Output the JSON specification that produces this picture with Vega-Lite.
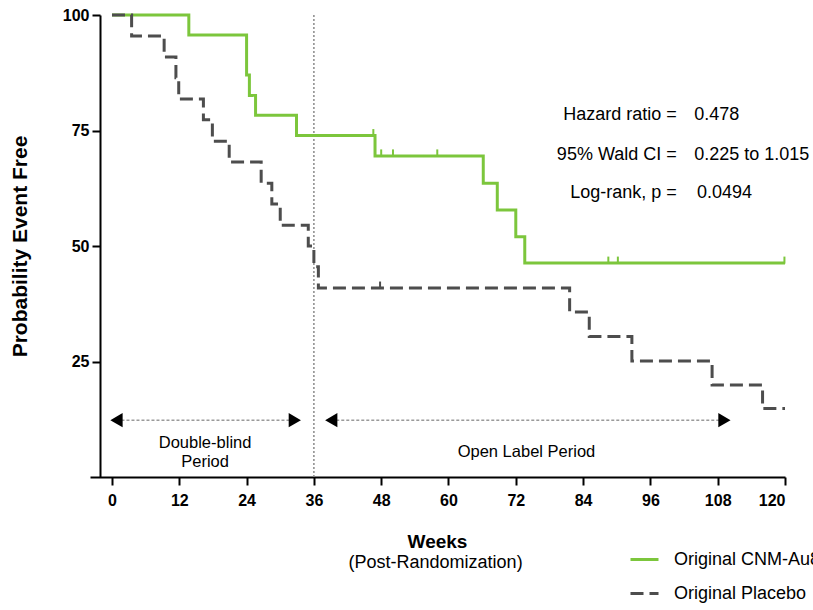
{
  "$schema": "https://vega.github.io/schema/vega-lite/v6.json",
  "width": 695,
  "height": 462,
  "autosize": {"type": "none"},
  "padding": {"left": 90, "top": 15, "right": 28, "bottom": 133},
  "background": "white",
  "config": {
    "view": {"stroke": null},
    "font": "Liberation Sans",
    "axis": {"grid": false, "domainColor": "black", "domainWidth": 2, "tickColor": "black", "tickWidth": 2, "tickSize": 8, "labelFont": "Liberation Sans", "labelFontWeight": "bold", "labelFontSize": 16, "labelColor": "black", "titleFont": "Liberation Sans", "titleColor": "black", "titleFontWeight": "bold"}
  },
  "datasets": {
    "curves": [
      {"group": "Original CNM-Au8", "week": 0, "prob": 100},
      {"group": "Original CNM-Au8", "week": 13.7, "prob": 95.65},
      {"group": "Original CNM-Au8", "week": 24.0, "prob": 87.0},
      {"group": "Original CNM-Au8", "week": 24.5, "prob": 82.6},
      {"group": "Original CNM-Au8", "week": 25.6, "prob": 78.3},
      {"group": "Original CNM-Au8", "week": 32.9, "prob": 73.9},
      {"group": "Original CNM-Au8", "week": 46.9, "prob": 69.5},
      {"group": "Original CNM-Au8", "week": 66.2, "prob": 63.6},
      {"group": "Original CNM-Au8", "week": 68.7, "prob": 57.8},
      {"group": "Original CNM-Au8", "week": 72.0, "prob": 52.0},
      {"group": "Original CNM-Au8", "week": 73.6, "prob": 46.3},
      {"group": "Original CNM-Au8", "week": 120, "prob": 46.3},
      {"group": "Original Placebo", "week": 0, "prob": 100},
      {"group": "Original Placebo", "week": 3.5, "prob": 95.45},
      {"group": "Original Placebo", "week": 9.3, "prob": 90.9},
      {"group": "Original Placebo", "week": 11.4, "prob": 86.4},
      {"group": "Original Placebo", "week": 11.9, "prob": 81.8},
      {"group": "Original Placebo", "week": 16.3, "prob": 77.3},
      {"group": "Original Placebo", "week": 17.9, "prob": 72.7},
      {"group": "Original Placebo", "week": 20.9, "prob": 68.2},
      {"group": "Original Placebo", "week": 26.6, "prob": 63.6},
      {"group": "Original Placebo", "week": 28.5, "prob": 59.1},
      {"group": "Original Placebo", "week": 30.0, "prob": 54.5},
      {"group": "Original Placebo", "week": 35.0, "prob": 50.0},
      {"group": "Original Placebo", "week": 36.0, "prob": 45.5},
      {"group": "Original Placebo", "week": 36.8, "prob": 40.9},
      {"group": "Original Placebo", "week": 81.6, "prob": 35.7},
      {"group": "Original Placebo", "week": 85.1, "prob": 30.4},
      {"group": "Original Placebo", "week": 92.7, "prob": 25.1},
      {"group": "Original Placebo", "week": 107.0, "prob": 19.9},
      {"group": "Original Placebo", "week": 116.0, "prob": 14.8},
      {"group": "Original Placebo", "week": 120, "prob": 14.8}
    ],
    "censor": [
      {"group": "Original CNM-Au8", "week": 46.6, "prob": 73.9},
      {"group": "Original CNM-Au8", "week": 48.0, "prob": 69.5},
      {"group": "Original CNM-Au8", "week": 50.1, "prob": 69.5},
      {"group": "Original CNM-Au8", "week": 58.0, "prob": 69.5},
      {"group": "Original CNM-Au8", "week": 88.5, "prob": 46.3},
      {"group": "Original CNM-Au8", "week": 90.2, "prob": 46.3},
      {"group": "Original CNM-Au8", "week": 119.9, "prob": 46.3},
      {"group": "Original Placebo", "week": 47.8, "prob": 40.9}
    ],
    "arrows": [
      {"week": 0.8, "week2": 32.6, "prob": 12.3},
      {"week": 39.1, "week2": 109.2, "prob": 12.3}
    ],
    "periodText": [
      {"week": 16.6, "prob": 7.4, "label": "Double-blind"},
      {"week": 16.6, "prob": 3.3, "label": "Period"},
      {"week": 73.9, "prob": 5.5, "label": "Open Label Period"}
    ],
    "subtitle": [
      {"week": 57.7, "prob": -18.6, "label": "(Post-Randomization)"}
    ],
    "statLabels": [
      {"week": 100.7, "prob": 78.4, "label": "Hazard ratio ="},
      {"week": 100.7, "prob": 69.7, "label": "95% Wald CI ="},
      {"week": 100.7, "prob": 61.4, "label": "Log-rank, p ="}
    ],
    "statValues": [
      {"week": 103.8, "prob": 78.4, "label": "0.478"},
      {"week": 103.8, "prob": 69.7, "label": "0.225 to 1.015"},
      {"week": 104.3, "prob": 61.4, "label": "0.0494"}
    ]
  },
  "layer": [
    {
      "data": {"values": [{"week": 36}]},
      "mark": {"type": "rule", "color": "#8a8a8a", "strokeWidth": 1.5, "strokeDash": [2, 2]},
      "encoding": {"x": {"field": "week", "type": "quantitative"}}
    },
    {
      "data": {"name": "arrows"},
      "mark": {"type": "rule", "color": "#9a9a9a", "strokeWidth": 1.5, "strokeDash": [3, 2]},
      "encoding": {
        "x": {"field": "week", "type": "quantitative"},
        "x2": {"field": "week2"},
        "y": {"field": "prob", "type": "quantitative"}
      }
    },
    {
      "data": {"name": "arrows"},
      "mark": {"type": "point", "shape": "triangle-left", "filled": true, "color": "black", "opacity": 1, "size": 200},
      "encoding": {
        "x": {"field": "week", "type": "quantitative"},
        "y": {"field": "prob", "type": "quantitative"}
      }
    },
    {
      "data": {"name": "arrows"},
      "mark": {"type": "point", "shape": "triangle-right", "filled": true, "color": "black", "opacity": 1, "size": 200},
      "encoding": {
        "x": {"field": "week2", "type": "quantitative"},
        "y": {"field": "prob", "type": "quantitative"}
      }
    },
    {
      "data": {"name": "curves"},
      "mark": {"type": "line", "interpolate": "step-after", "strokeWidth": 3},
      "encoding": {
        "x": {"field": "week", "type": "quantitative", "scale": {"domain": [-3.92, 120], "nice": false}, "axis": {"values": [0, 12, 24, 36, 48, 60, 72, 84, 96, 108, 120], "title": "Weeks", "titleFontSize": 19, "titlePadding": 24, "titleX": 347, "labelPadding": 7}},
        "y": {"field": "prob", "type": "quantitative", "scale": {"domain": [0, 100], "nice": false}, "axis": {"values": [25, 50, 75, 100], "offset": -10, "title": "Probability Event Free", "titleFontSize": 21, "titlePadding": 32, "labelPadding": 3}},
        "color": {"field": "group", "type": "nominal", "scale": {"domain": ["Original CNM-Au8", "Original Placebo"], "range": ["#7cc63c", "#4d4d4d"]}, "legend": {"orient": "none", "legendX": 539, "legendY": 529, "title": null, "symbolType": "stroke", "symbolSize": 784, "symbolStrokeWidth": 3, "labelFontSize": 18, "labelFont": "Liberation Sans", "labelColor": "black", "rowPadding": 9, "labelOffset": 14}},
        "strokeDash": {"field": "group", "type": "nominal", "scale": {"domain": ["Original CNM-Au8", "Original Placebo"], "range": [[1, 0], [13, 6]]}, "legend": null}
      }
    },
    {
      "data": {"name": "censor"},
      "mark": {"type": "tick", "orient": "vertical", "size": 7, "thickness": 2, "yOffset": -3, "opacity": 1},
      "encoding": {
        "x": {"field": "week", "type": "quantitative"},
        "y": {"field": "prob", "type": "quantitative"},
        "color": {"field": "group", "type": "nominal", "legend": null}
      }
    },
    {
      "data": {"name": "periodText"},
      "mark": {"type": "text", "align": "center", "baseline": "middle", "fontSize": 16.5, "color": "black"},
      "encoding": {
        "x": {"field": "week", "type": "quantitative"},
        "y": {"field": "prob", "type": "quantitative"},
        "text": {"field": "label"}
      }
    },
    {
      "data": {"name": "subtitle"},
      "mark": {"type": "text", "align": "center", "baseline": "middle", "fontSize": 18, "color": "black"},
      "encoding": {
        "x": {"field": "week", "type": "quantitative"},
        "y": {"field": "prob", "type": "quantitative"},
        "text": {"field": "label"}
      }
    },
    {
      "data": {"name": "statLabels"},
      "mark": {"type": "text", "align": "right", "baseline": "middle", "fontSize": 18, "color": "black"},
      "encoding": {
        "x": {"field": "week", "type": "quantitative"},
        "y": {"field": "prob", "type": "quantitative"},
        "text": {"field": "label"}
      }
    },
    {
      "data": {"name": "statValues"},
      "mark": {"type": "text", "align": "left", "baseline": "middle", "fontSize": 18, "color": "black"},
      "encoding": {
        "x": {"field": "week", "type": "quantitative"},
        "y": {"field": "prob", "type": "quantitative"},
        "text": {"field": "label"}
      }
    }
  ]
}
